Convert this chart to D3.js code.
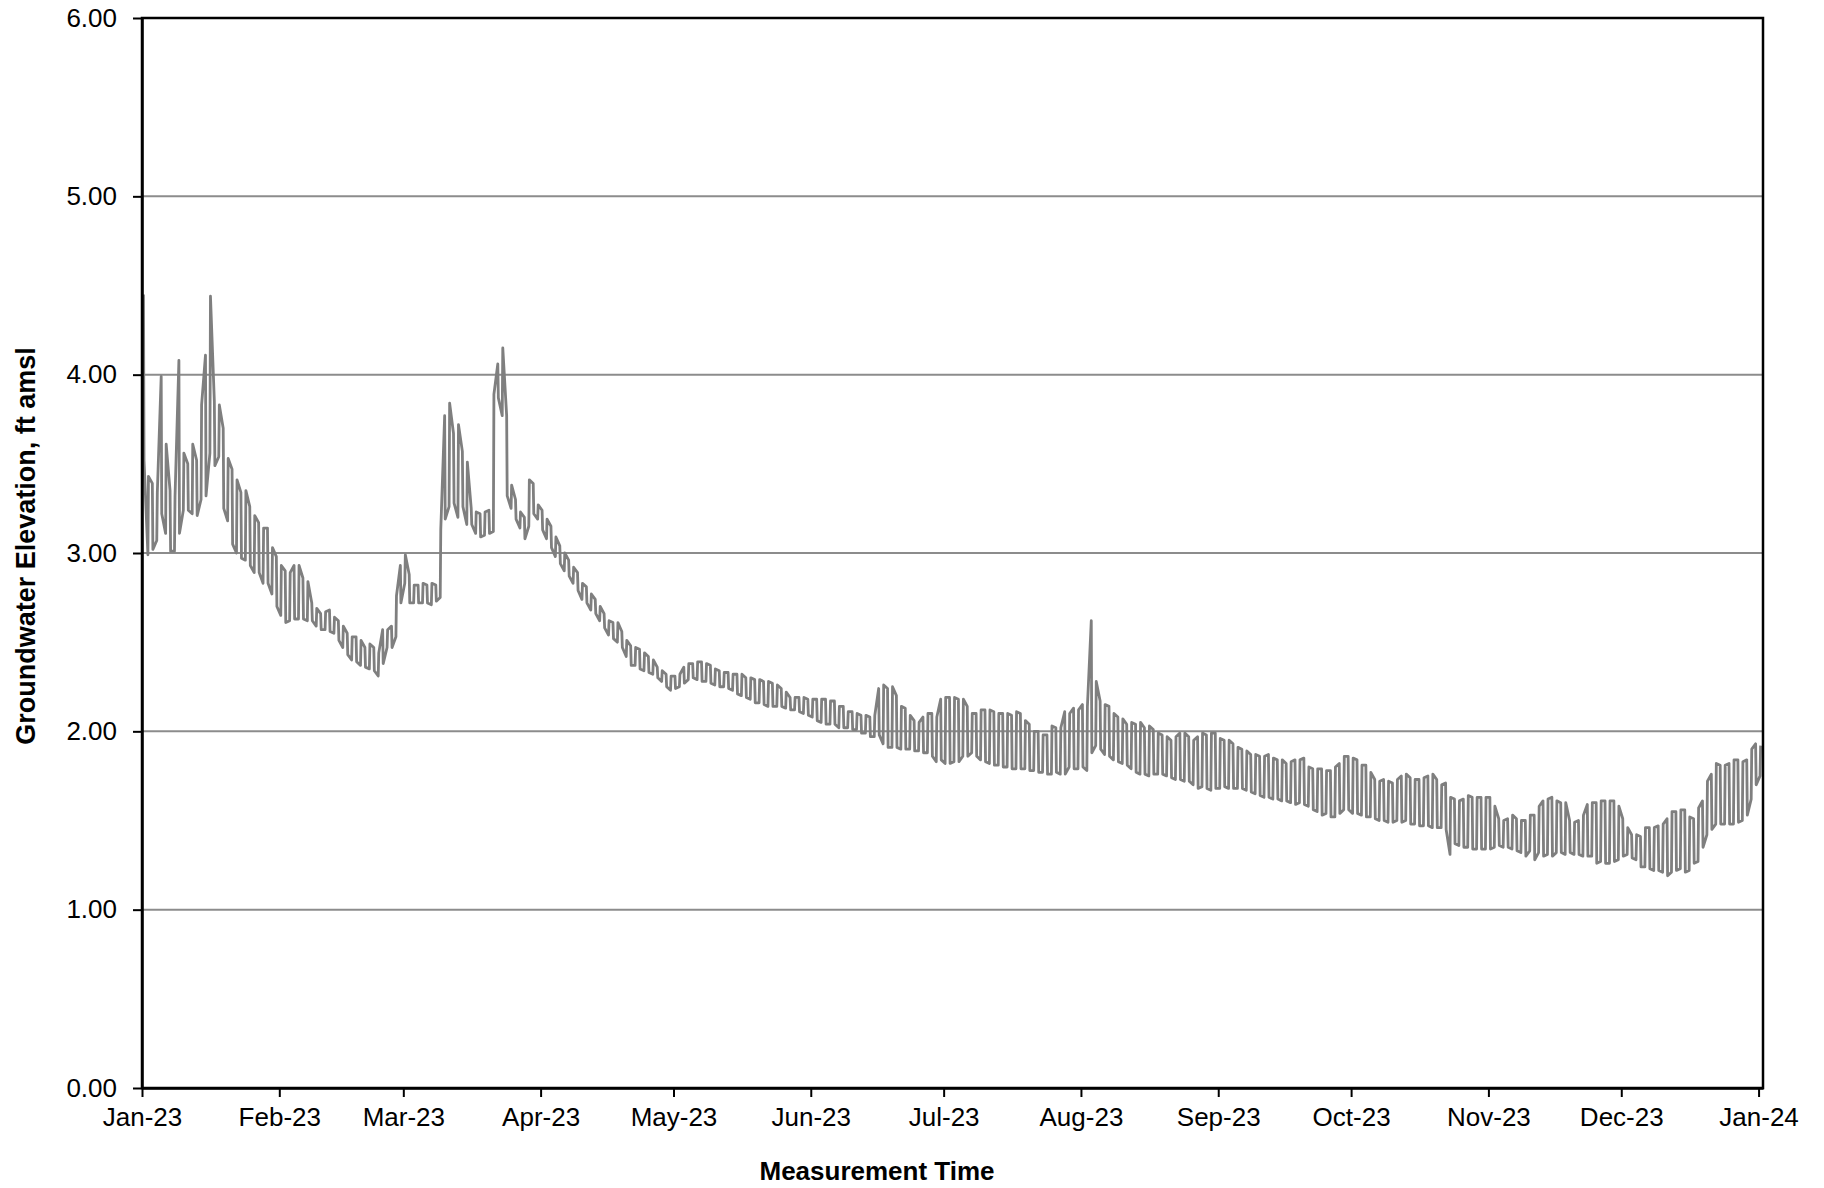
<!DOCTYPE html>
<html>
<head>
<meta charset="utf-8">
<script src="https://cdn.jsdelivr.net/npm/d3@7"></script>
<style>
  body { margin: 0; background: #fff; }
  svg text { font-family: "Liberation Sans", Arial, sans-serif; }
</style>
</head>
<body>
<svg id="chart"></svg>
<script>
// daily high / low groundwater elevation (ft amsl), one pair per day from 1 Jan 2023
const startYear = 2023;
const highs = [
  // Jan
  4.45,3.43,3.39,3.34,3.99,3.61,3.35,3.32,4.08,3.56,3.50,3.61,3.52,3.83,4.11,4.44,3.85,3.83,3.70,3.53,3.47,3.41,3.34,3.35,3.26,3.21,3.17,3.14,3.14,3.03,2.98,
  // Feb
  2.93,2.90,2.89,2.93,2.93,2.86,2.84,2.72,2.69,2.66,2.67,2.68,2.64,2.62,2.59,2.55,2.53,2.53,2.51,2.47,2.49,2.47,2.44,2.57,2.57,2.59,2.76,2.93,
  // Mar
  2.99,2.88,2.82,2.82,2.83,2.82,2.83,2.82,3.13,3.77,3.84,3.67,3.72,3.57,3.51,3.25,3.23,3.22,3.23,3.24,3.89,4.06,4.15,3.77,3.38,3.30,3.23,3.20,3.41,3.39,3.27,
  // Apr
  3.24,3.19,3.15,3.09,3.04,3.00,2.96,2.92,2.89,2.83,2.81,2.77,2.74,2.70,2.66,2.62,2.61,2.61,2.56,2.51,2.48,2.47,2.46,2.44,2.42,2.40,2.36,2.34,2.32,2.31,
  // May
  2.31,2.32,2.36,2.38,2.38,2.39,2.39,2.38,2.37,2.35,2.34,2.33,2.33,2.32,2.32,2.32,2.30,2.30,2.29,2.29,2.28,2.28,2.27,2.26,2.24,2.22,2.19,2.19,2.19,2.19,2.18,
  // Jun
  2.18,2.18,2.18,2.18,2.17,2.17,2.14,2.14,2.11,2.11,2.10,2.09,2.09,2.08,2.09,2.24,2.26,2.24,2.25,2.20,2.14,2.13,2.09,2.06,2.05,2.08,2.10,2.10,2.08,2.18,
  // Jul
  2.19,2.19,2.19,2.18,2.18,2.14,2.10,2.10,2.12,2.12,2.12,2.11,2.10,2.10,2.10,2.09,2.11,2.10,2.06,2.04,2.00,2.00,1.98,1.98,2.03,2.02,2.02,2.11,2.10,2.13,2.12,
  // Aug
  2.15,2.14,2.62,2.28,2.17,2.15,2.14,2.10,2.08,2.07,2.04,2.05,2.04,2.05,2.02,2.03,2.01,1.99,1.98,1.97,1.95,1.97,1.99,1.99,1.97,1.95,1.97,1.99,1.98,1.99,1.99,
  // Sep
  1.96,1.95,1.95,1.93,1.91,1.90,1.89,1.87,1.87,1.86,1.86,1.87,1.85,1.84,1.84,1.82,1.83,1.84,1.84,1.85,1.80,1.79,1.79,1.79,1.78,1.78,1.80,1.82,1.86,1.86,
  // Oct
  1.85,1.84,1.81,1.81,1.77,1.73,1.72,1.73,1.72,1.71,1.73,1.75,1.76,1.74,1.73,1.73,1.74,1.75,1.76,1.73,1.70,1.71,1.63,1.62,1.61,1.62,1.64,1.63,1.63,1.63,1.63,
  // Nov
  1.63,1.58,1.51,1.50,1.51,1.53,1.51,1.50,1.50,1.53,1.53,1.58,1.61,1.62,1.63,1.61,1.60,1.60,1.50,1.49,1.50,1.53,1.59,1.60,1.60,1.61,1.61,1.61,1.61,1.58,
  // Dec
  1.51,1.46,1.42,1.42,1.41,1.46,1.46,1.46,1.47,1.48,1.51,1.55,1.55,1.56,1.56,1.52,1.51,1.57,1.61,1.72,1.76,1.82,1.81,1.81,1.82,1.84,1.84,1.83,1.84,1.90,1.93,
  // Jan 2024
  1.92
];
const lows = [
  // Jan
  3.52,2.99,3.02,3.07,3.22,3.11,3.01,3.01,3.11,3.24,3.24,3.22,3.21,3.30,3.32,3.56,3.49,3.54,3.25,3.18,3.05,3.00,2.97,2.96,2.93,2.89,2.89,2.83,2.83,2.77,2.70,
  // Feb
  2.65,2.61,2.62,2.63,2.63,2.63,2.62,2.62,2.59,2.57,2.57,2.56,2.55,2.51,2.47,2.43,2.40,2.39,2.37,2.36,2.35,2.34,2.31,2.38,2.47,2.47,2.53,2.72,
  // Mar
  2.83,2.72,2.72,2.72,2.72,2.72,2.71,2.73,2.75,3.19,3.26,3.28,3.20,3.26,3.16,3.16,3.11,3.09,3.10,3.11,3.12,3.87,3.77,3.32,3.25,3.19,3.14,3.08,3.15,3.22,3.19,
  // Apr
  3.13,3.08,3.03,2.98,2.94,2.90,2.87,2.83,2.79,2.74,2.72,2.68,2.66,2.62,2.58,2.54,2.52,2.50,2.47,2.42,2.37,2.37,2.35,2.34,2.33,2.32,2.30,2.28,2.25,2.23,
  // May
  2.24,2.25,2.27,2.29,2.30,2.29,2.28,2.28,2.27,2.26,2.25,2.25,2.24,2.23,2.21,2.20,2.19,2.18,2.16,2.16,2.15,2.14,2.14,2.14,2.14,2.13,2.12,2.12,2.11,2.10,2.09,
  // Jun
  2.08,2.06,2.05,2.04,2.04,2.04,2.02,2.02,2.02,2.01,2.01,1.99,1.99,1.97,1.97,1.98,1.93,1.91,1.91,1.91,1.90,1.90,1.90,1.89,1.89,1.88,1.88,1.86,1.83,1.84,
  // Jul
  1.82,1.82,1.83,1.83,1.86,1.86,1.88,1.86,1.84,1.83,1.82,1.81,1.81,1.80,1.80,1.79,1.79,1.79,1.79,1.78,1.78,1.77,1.77,1.76,1.76,1.77,1.76,1.76,1.80,1.79,1.79,
  // Aug
  1.80,1.78,1.88,1.92,1.90,1.87,1.86,1.84,1.83,1.82,1.81,1.79,1.77,1.76,1.76,1.75,1.76,1.76,1.76,1.75,1.74,1.73,1.73,1.72,1.72,1.70,1.68,1.69,1.68,1.67,1.68,
  // Sep
  1.68,1.69,1.68,1.68,1.68,1.68,1.67,1.66,1.65,1.64,1.63,1.63,1.62,1.62,1.61,1.61,1.60,1.59,1.60,1.59,1.58,1.56,1.55,1.53,1.54,1.52,1.52,1.54,1.56,1.56,
  // Oct
  1.54,1.54,1.53,1.52,1.52,1.51,1.50,1.50,1.49,1.49,1.50,1.49,1.50,1.48,1.48,1.47,1.47,1.47,1.46,1.46,1.46,1.45,1.31,1.37,1.36,1.35,1.35,1.34,1.34,1.34,1.34,
  // Nov
  1.34,1.35,1.36,1.35,1.35,1.34,1.33,1.32,1.30,1.33,1.28,1.32,1.30,1.31,1.30,1.32,1.32,1.31,1.32,1.31,1.31,1.30,1.30,1.30,1.26,1.27,1.26,1.26,1.27,1.28,
  // Dec
  1.30,1.31,1.29,1.28,1.24,1.24,1.23,1.22,1.22,1.21,1.19,1.21,1.22,1.23,1.21,1.22,1.26,1.27,1.35,1.42,1.45,1.48,1.48,1.48,1.48,1.48,1.49,1.50,1.53,1.62,1.70,
  // Jan 2024
  1.75
];
const yTicks = [0, 1, 2, 3, 4, 5, 6];
const gridValues = [1, 2, 3, 4, 5];
const xTitle = "Measurement Time";
const yTitle = "Groundwater Elevation, ft amsl";

const W = 1824, H = 1188;
const plotLeft = 142, plotRight = 1763, plotTop = 18, plotBottom = 1088;

const svg = d3.select("#chart")
  .attr("width", W)
  .attr("height", H);

svg.append("rect").attr("width", W).attr("height", H).attr("fill", "#fff");

const x = d3.scaleTime()
  .domain([new Date(startYear, 0, 1), new Date(startYear + 1, 0, 2)])
  .range([plotLeft, plotRight]);

const y = d3.scaleLinear()
  .domain([0, 6])
  .range([plotBottom, plotTop]);

// one vertical swing per day, alternating direction so it reads like the logger trace
const points = [];
highs.forEach((hi, i) => {
  const lo = lows[i];
  const a = new Date(startYear, 0, 1 + i, 8);
  const b = new Date(startYear, 0, 1 + i, 11);
  if (i % 2 === 0) {
    points.push({ t: a, v: hi }, { t: b, v: lo });
  } else {
    points.push({ t: a, v: lo }, { t: b, v: hi });
  }
});

// gridlines
svg.append("g")
  .selectAll("line")
  .data(gridValues)
  .enter()
  .append("line")
  .attr("x1", plotLeft)
  .attr("x2", plotRight)
  .attr("y1", d => y(d))
  .attr("y2", d => y(d))
  .attr("stroke", "#8c8c8c")
  .attr("stroke-width", 2);

// series
svg.append("path")
  .datum(points)
  .attr("fill", "none")
  .attr("stroke", "#7f7f7f")
  .attr("stroke-width", 2.8)
  .attr("stroke-linejoin", "round")
  .attr("d", d3.line().x(d => x(d.t)).y(d => y(d.v)));

// plot frame
svg.append("rect")
  .attr("x", plotLeft)
  .attr("y", plotTop)
  .attr("width", plotRight - plotLeft)
  .attr("height", plotBottom - plotTop)
  .attr("fill", "none")
  .attr("stroke", "#000")
  .attr("stroke-width", 2.5);

const yAxis = svg.append("g")
  .attr("transform", `translate(${plotLeft},0)`)
  .call(d3.axisLeft(y)
    .tickValues(yTicks)
    .tickFormat(d3.format(".2f"))
    .tickSize(9)
    .tickSizeOuter(0)
    .tickPadding(16));

const xAxis = svg.append("g")
  .attr("transform", `translate(0,${plotBottom})`)
  .call(d3.axisBottom(x)
    .ticks(d3.timeMonth.every(1))
    .tickFormat(d3.timeFormat("%b-%y"))
    .tickSize(9)
    .tickSizeOuter(0)
    .tickPadding(11));

[yAxis, xAxis].forEach(g => {
  g.select(".domain").attr("stroke", "#000").attr("stroke-width", 2.5);
  g.selectAll(".tick line").attr("stroke", "#000").attr("stroke-width", 2);
  g.selectAll(".tick text")
    .attr("fill", "#000")
    .style("font-size", "26px")
    .style("font-family", '"Liberation Sans", Arial, sans-serif');
});

svg.append("text")
  .attr("x", 877)
  .attr("y", 1180)
  .attr("text-anchor", "middle")
  .style("font-size", "26px")
  .style("font-weight", "bold")
  .text(xTitle);

svg.append("text")
  .attr("transform", "translate(35,546) rotate(-90)")
  .attr("text-anchor", "middle")
  .style("font-size", "27px")
  .style("font-weight", "bold")
  .text(yTitle);
</script>
</body>
</html>
